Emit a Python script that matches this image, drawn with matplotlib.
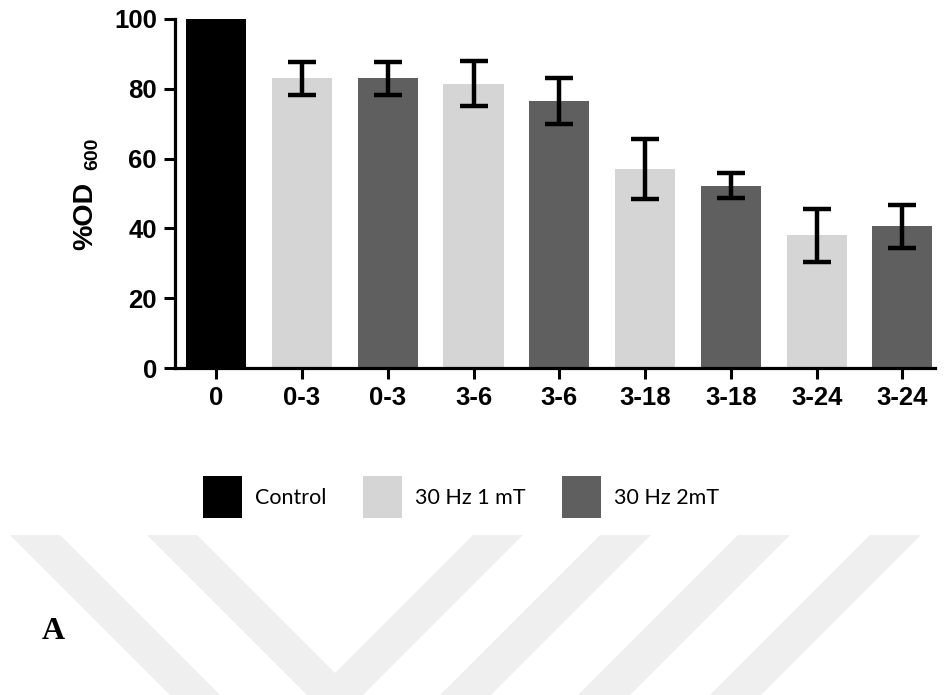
import matplotlib
matplotlib.use('Agg')
import matplotlib.pyplot as plt
from matplotlib.patches import Patch, Polygon
import numpy as np

# data
labels = ['0', '0-3', '0-3', '3-6', '3-6', '3-18', '3-18', '3-24', '3-24']
groups = ['Control', '30 Hz 1 mT', '30 Hz 2mT', '30 Hz 1 mT', '30 Hz 2mT',
          '30 Hz 1 mT', '30 Hz 2mT', '30 Hz 1 mT', '30 Hz 2mT']
means = [100, 83, 83, 81.5, 76.5, 57, 52.2, 38, 40.6]
errs = [0, 4.8, 4.8, 6.5, 6.5, 8.7, 3.6, 7.6, 6.1]
legend_names = ['Control', '30 Hz 1 mT', '30 Hz 2mT']
colors = {'Control': '#000000', '30 Hz 1 mT': '#d5d5d5', '30 Hz 2mT': '#5f5f5f'}

W, H = 946, 695
fig = plt.figure(figsize=(W / 100, H / 100), dpi=100)

# faint background watermark (figure pixel coords, y from top)
wm = [
    [(10, 535), (60, 535), (220, 695), (170, 695)],
    [(147, 535), (197, 535), (335, 673), (473, 535), (523, 535), (363, 695), (307, 695)],
    [(600, 535), (651, 535), (491, 695), (440, 695)],
    [(738, 535), (790, 535), (630, 695), (578, 695)],
    [(870, 535), (921, 535), (761, 695), (710, 695)],
]
for pts in wm:
    xy = [(x / W, 1 - y / H) for x, y in pts]
    fig.patches.append(Polygon(xy, closed=True, transform=fig.transFigure,
                               facecolor='#efefef', edgecolor='none', zorder=0))

ax = fig.add_axes([175 / W, 1 - 368 / H, (935 - 175) / W, (368 - 19) / H])
ax.patch.set_alpha(0)

x = np.arange(len(labels))
bar_colors = [colors[g] for g in groups]
ax.bar(x, means, width=0.7, color=bar_colors, zorder=2)
ax.errorbar(x[1:], means[1:], yerr=errs[1:], fmt='none', ecolor='black',
            elinewidth=3.2, capsize=10, capthick=3.2, zorder=3)

ax.set_ylim(0, 100)
ax.set_xlim(-0.48, 8.38)
ax.set_yticks([0, 20, 40, 60, 80, 100])
ax.set_xticks(x)
ax.set_xticklabels(labels)

for s in ['top', 'right']:
    ax.spines[s].set_visible(False)
for s in ['left', 'bottom']:
    ax.spines[s].set_linewidth(2.3)

ax.tick_params(axis='both', direction='out', length=8, width=2.2,
               labelsize=18.5, pad=5)
for t in ax.get_xticklabels() + ax.get_yticklabels():
    t.set_fontfamily('Liberation Sans')
    t.set_fontweight('bold')

# y label "%OD" with a small "600" after it
ax.set_ylabel('%OD', fontsize=20.5, fontweight='bold', family='Liberation Sans',
              va='baseline')
ax.yaxis.set_label_coords((92 - 175) / 760, (368 - 216) / 349)
ax.text((97 - 175) / 760, (368 - 153.5) / 349, '600', transform=ax.transAxes,
        rotation=90, rotation_mode='anchor', ha='center', va='baseline',
        fontsize=14, fontweight='bold', family='Liberation Sans')

handles = [Patch(facecolor=colors[n], edgecolor='none') for n in legend_names]
fig.legend(handles, legend_names, loc='center left',
           bbox_to_anchor=(203 / W, 1 - 497 / H), ncol=3, frameon=False,
           prop={'family': 'Lato', 'size': 15.5}, handlelength=1.8,
           handleheight=2.6, handletextpad=0.62, columnspacing=1.7,
           borderpad=0, borderaxespad=0)

fig.text(42 / W, 1 - 639 / H, 'A', fontsize=23, fontweight='bold',
         family='Liberation Serif', ha='left', va='baseline')

fig.savefig('out.png', dpi=100)
